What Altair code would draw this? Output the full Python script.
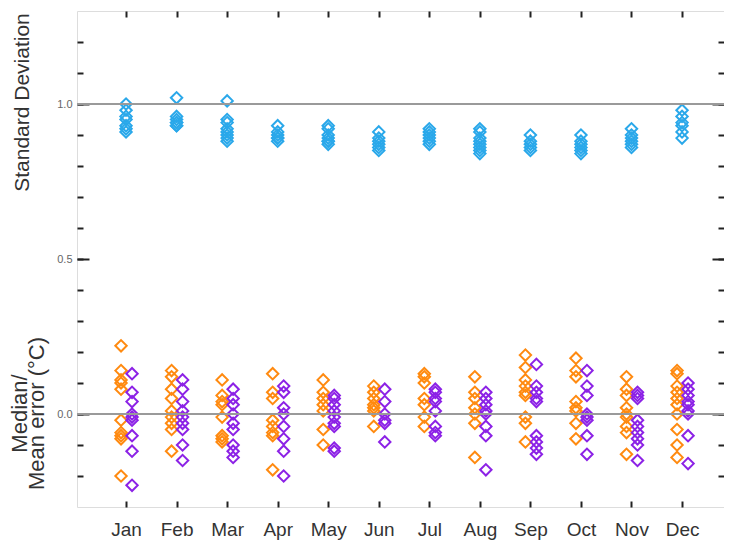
import altair as alt
import pandas as pd

months = ["Jan", "Feb", "Mar", "Apr", "May", "Jun", "Jul", "Aug", "Sep", "Oct", "Nov", "Dec"]

std_dev = [
    [1.00, 0.98, 0.96, 0.95, 0.93, 0.92, 0.91],
    [1.02, 0.96, 0.95, 0.94, 0.94, 0.93, 0.93],
    [1.01, 0.95, 0.94, 0.92, 0.91, 0.90, 0.89, 0.88],
    [0.93, 0.91, 0.90, 0.89, 0.89, 0.88],
    [0.93, 0.92, 0.90, 0.89, 0.88, 0.88, 0.87],
    [0.91, 0.89, 0.88, 0.87, 0.86, 0.85],
    [0.92, 0.91, 0.90, 0.89, 0.88, 0.87],
    [0.92, 0.91, 0.89, 0.88, 0.87, 0.86, 0.85, 0.84],
    [0.90, 0.88, 0.87, 0.86, 0.85],
    [0.90, 0.88, 0.87, 0.86, 0.85, 0.84],
    [0.92, 0.90, 0.89, 0.88, 0.87, 0.86],
    [0.98, 0.96, 0.94, 0.93, 0.91, 0.89],
]

median_err = [
    [0.22, 0.14, 0.11, 0.10, 0.08, -0.02, -0.06, -0.07, -0.08, -0.20],
    [0.14, 0.12, 0.08, 0.05, 0.01, -0.01, -0.03, -0.05, -0.12],
    [0.11, 0.06, 0.04, 0.03, -0.01, -0.07, -0.08, -0.09],
    [0.13, 0.07, 0.05, -0.02, -0.04, -0.06, -0.07, -0.18],
    [0.11, 0.07, 0.05, 0.03, 0.01, -0.05, -0.10],
    [0.09, 0.07, 0.05, 0.03, 0.02, 0.01, -0.04],
    [0.13, 0.12, 0.10, 0.05, 0.03, -0.01, -0.04],
    [0.12, 0.07, 0.05, 0.02, 0.00, -0.03, -0.14],
    [0.19, 0.15, 0.11, 0.09, 0.07, 0.06, -0.01, -0.03, -0.09],
    [0.18, 0.14, 0.12, 0.04, 0.02, 0.01, -0.03, -0.08],
    [0.12, 0.08, 0.06, 0.02, 0.00, -0.01, -0.04, -0.06, -0.13],
    [0.14, 0.13, 0.09, 0.07, 0.05, 0.03, 0.00, -0.05, -0.10, -0.14],
]

mean_err = [
    [0.13, 0.07, 0.04, 0.00, -0.01, -0.02, -0.07, -0.12, -0.23],
    [0.11, 0.08, 0.04, 0.01, -0.01, -0.03, -0.05, -0.10, -0.15],
    [0.08, 0.05, 0.03, 0.00, -0.03, -0.05, -0.10, -0.12, -0.14],
    [0.09, 0.07, 0.02, 0.00, -0.04, -0.08, -0.12, -0.20],
    [0.06, 0.05, 0.03, 0.01, -0.01, -0.03, -0.04, -0.11, -0.12],
    [0.08, 0.04, 0.00, -0.02, -0.03, -0.09],
    [0.08, 0.07, 0.05, 0.04, 0.01, -0.04, -0.06, -0.07],
    [0.07, 0.05, 0.03, 0.01, 0.00, -0.04, -0.07, -0.18],
    [0.16, 0.09, 0.07, 0.05, 0.04, -0.07, -0.09, -0.11, -0.13],
    [0.14, 0.09, 0.06, 0.00, -0.01, -0.02, -0.07, -0.13],
    [0.07, 0.06, 0.05, -0.02, -0.04, -0.06, -0.08, -0.10, -0.15],
    [0.10, 0.08, 0.06, 0.04, 0.03, 0.01, 0.00, -0.07, -0.16],
]

zero_line = [0.0]
one_line = [1.0]
major_ticks = [0.0, 0.5, 1.0]
minor_ticks = [round(-0.2 + 0.1 * i, 1) for i in range(15)]
month_ticks = list(range(1, 13))


def to_frame(series):
    rows = []
    for i, vals in enumerate(series):
        for v in vals:
            rows.append({"month": i + 1, "value": v})
    return pd.DataFrame(rows)


sd_df = to_frame(std_dev)
med_df = to_frame(median_err)
mean_df = to_frame(mean_err)

xscale = alt.Scale(domain=[0.03, 12.83], nice=False, zero=False)
yscale = alt.Scale(domain=[-0.3, 1.3], nice=False, zero=False)

label_expr = "[" + ",".join("'%s'" % m for m in months) + "][datum.value - 1]"

FONT = "Liberation Sans"
TICK = "#222222"
LINE = "#9a9a9a"


def tick_axis(orient, values, size):
    return alt.Axis(orient=orient, values=values, offset=-size, tickSize=size,
                    tickWidth=2, tickColor=TICK, labels=False, domain=False,
                    grid=False, title=None)


zero_rule = alt.Chart(pd.DataFrame({"y": zero_line})).mark_rule(
    color=LINE, strokeWidth=2).encode(
    y=alt.Y("y:Q", scale=yscale,
            axis=alt.Axis(orient="left", values=major_ticks, format=".1f",
                          ticks=False, domain=False, grid=False,
                          labelPadding=5, labelFontSize=11, labelColor="#666666",
                          labelFont=FONT,
                          title="Standard Deviation", titleX=-45, titleY=91,
                          titleFontSize=21, titleFontWeight="normal",
                          titleColor="#333333", titleFont=FONT, titleAlign="center"))
)

one_rule = alt.Chart(pd.DataFrame({"y": one_line})).mark_rule(
    color=LINE, strokeWidth=2).encode(
    y=alt.Y("y:Q", scale=yscale, axis=tick_axis("right", major_ticks, 12))
)

marker = dict(shape="diamond", filled=False, size=130, strokeWidth=2, opacity=1)

sd = alt.Chart(sd_df).mark_point(color="#2aa8ea", **marker).encode(
    x=alt.X("month:Q", scale=xscale,
            axis=alt.Axis(orient="bottom", values=month_ticks, labelExpr=label_expr,
                          ticks=False, domain=False, grid=False, labelPadding=13,
                          labelFontSize=19, labelColor="#333333", labelFont=FONT,
                          title=None)),
    y=alt.Y("value:Q", scale=yscale,
            axis=alt.Axis(orient="left", values=major_ticks, offset=-12, tickSize=12,
                          tickWidth=2, tickColor=TICK, labels=False, domain=False,
                          grid=False,
                          title=["Median/", "Mean error (°C)"], titleX=-58, titleY=402,
                          titleFontSize=22, titleFontWeight="normal",
                          titleColor="#333333", titleFont=FONT, titleAlign="center",
                          titleLineHeight=17)),
)

med = alt.Chart(med_df).mark_point(color="#ff8a10", xOffset=-5, **marker).encode(
    x=alt.X("month:Q", scale=xscale, axis=tick_axis("top", month_ticks, 6)),
    y=alt.Y("value:Q", scale=yscale, axis=tick_axis("left", minor_ticks, 6)),
)

mean = alt.Chart(mean_df).mark_point(color="#8c22e6", xOffset=6, **marker).encode(
    x=alt.X("month:Q", scale=xscale, axis=tick_axis("bottom", month_ticks, 6)),
    y=alt.Y("value:Q", scale=yscale, axis=tick_axis("right", minor_ticks, 6)),
)

chart = (
    alt.layer(sd, med, mean, zero_rule, one_rule)
    .resolve_axis(x="independent", y="independent")
    .properties(width=647, height=496,
                autosize=alt.AutoSizeParams(type="none"),
                padding={"left": 69, "top": 3, "right": 0, "bottom": 34})
    .configure_view(stroke="#111111", strokeWidth=2)
    .configure(background="white")
)

chart.save("out.html", embed_options={"renderer": "svg", "actions": False})
